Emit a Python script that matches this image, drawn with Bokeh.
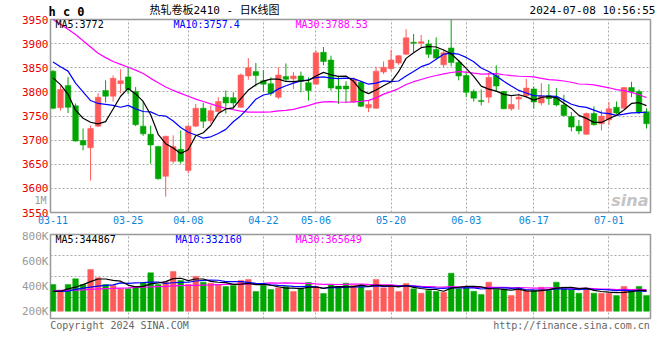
import numpy as np
import pandas as pd
from bokeh.plotting import figure
from bokeh.models import Range1d, FixedTicker, Label, ColumnDataSource, LinearAxis
from bokeh.layouts import column
from bokeh.embed import file_html
from bokeh.resources import INLINE

# ---------------- data ----------------
tick_idx = [0, 10, 18, 28, 35, 45, 55, 64, 74]
tick_lbl = ["03-11", "03-25", "04-08", "04-22", "05-06", "05-20", "06-03", "06-17", "07-01"]

open_ = [3843, 3767, 3813, 3771, 3699, 3684, 3729, 3803, 3791, 3817,
         3831, 3801, 3729, 3712, 3687, 3625, 3656, 3681, 3637, 3729,
         3766, 3740, 3759, 3789, 3788, 3768, 3833, 3842, 3823, 3817,
         3789, 3832, 3827, 3833, 3819, 3816, 3882, 3866, 3812, 3812,
         3779, 3820, 3767, 3766, 3841, 3848, 3860, 3878, 3903, 3901,
         3899, 3888, 3856, 3891, 3861, 3834, 3801, 3782, 3789, 3834,
         3801, 3765, 3785, 3792, 3806, 3777, 3792, 3789, 3773, 3749,
         3729, 3712, 3755, 3734, 3742, 3768, 3766, 3809, 3801, 3759]
high = [3845, 3812, 3831, 3776, 3724, 3730, 3797, 3824, 3834, 3847,
        3851, 3810, 3780, 3730, 3688, 3709, 3710, 3720, 3731, 3775,
        3777, 3772, 3789, 3803, 3799, 3838, 3870, 3860, 3845, 3830,
        3851, 3859, 3841, 3842, 3830, 3886, 3893, 3875, 3832, 3822,
        3830, 3821, 3782, 3852, 3863, 3887, 3876, 3930, 3920, 3918,
        3908, 3913, 3888, 3950, 3866, 3842, 3805, 3805, 3840, 3855,
        3802, 3792, 3796, 3827, 3811, 3818, 3816, 3808, 3794, 3758,
        3742, 3757, 3770, 3762, 3779, 3780, 3810, 3821, 3805, 3766]
low = [3764, 3761, 3756, 3697, 3679, 3616, 3727, 3778, 3780, 3797,
       3796, 3729, 3709, 3651, 3618, 3583, 3651, 3651, 3631, 3727,
       3725, 3734, 3757, 3755, 3765, 3767, 3825, 3811, 3800, 3792,
       3785, 3820, 3806, 3799, 3782, 3815, 3855, 3803, 3775, 3777,
       3777, 3769, 3758, 3765, 3837, 3844, 3856, 3876, 3882, 3893,
       3870, 3868, 3851, 3853, 3824, 3789, 3780, 3772, 3777, 3800,
       3764, 3761, 3763, 3789, 3765, 3772, 3773, 3770, 3749, 3718,
       3712, 3711, 3730, 3720, 3731, 3754, 3765, 3789, 3754, 3724]
close = [3766, 3805, 3768, 3698, 3690, 3724, 3789, 3791, 3828, 3823,
         3805, 3732, 3713, 3690, 3620, 3708, 3687, 3656, 3729, 3766,
         3739, 3761, 3780, 3777, 3777, 3835, 3850, 3834, 3816, 3797,
         3835, 3826, 3833, 3822, 3803, 3881, 3863, 3808, 3806, 3806,
         3826, 3770, 3774, 3843, 3851, 3866, 3875, 3912, 3901, 3904,
         3878, 3870, 3881, 3861, 3833, 3799, 3787, 3780, 3830, 3812,
         3765, 3774, 3789, 3808, 3779, 3792, 3786, 3773, 3751, 3727,
         3719, 3755, 3732, 3750, 3765, 3756, 3809, 3800, 3758, 3734]
volume = [414000, 360000, 414000, 459000, 414000, 534000, 467000, 414000, 406000, 379000,
          379000, 398000, 430000, 507000, 414000, 432000, 518000, 446000, 414000, 478000,
          432000, 424000, 411000, 398000, 406000, 446000, 454000, 358000, 406000, 374000,
          387000, 398000, 358000, 384000, 430000, 398000, 342000, 414000, 398000, 424000,
          406000, 398000, 366000, 454000, 387000, 406000, 358000, 422000, 379000, 344000,
          366000, 358000, 352000, 504000, 379000, 398000, 360000, 334000, 432000, 374000,
          374000, 326000, 374000, 366000, 366000, 392000, 366000, 432000, 392000, 371000,
          344000, 384000, 344000, 344000, 344000, 326000, 398000, 374000, 398000, 326000]

# moving-average values before enough history is visible
ma5_head = [3829, 3815, 3795, 3762]
ma10_head = [3862, 3852, 3843, 3818, 3800, 3782, 3776, 3774, 3772]
ma30_head = [3950, 3940, 3930, 3919, 3906, 3893, 3880, 3871, 3863, 3857,
             3851, 3845, 3838, 3828, 3819, 3810, 3803, 3797, 3791, 3785,
             3780, 3775, 3770, 3766, 3763, 3760, 3758, 3758, 3758]
vma5_head = [358000, 360000, 379000, 392000]
vma10_head = [358000, 358000, 360000, 374000, 384000, 392000, 400000, 406000, 411000]
vma30_head = [364000, 366000, 367000, 369000, 371000, 374000, 378000, 380000, 382000, 385000,
              387000, 390000, 392000, 394000, 397000, 399000, 402000, 404000, 406000, 407000,
              409000, 410000, 412000, 414000, 415000, 417000, 418000, 420000, 422000]

VOL_BASE = 200000

symbol_text = "h c 0"
header_texts = ["热轧卷板2410 - 日K线图", "2024-07-08 10:56:55"]
footer_texts = ["Copyright 2024 SINA.COM", "http://finance.sina.com.cn"]

# ---------------- derived ----------------
def moving(values, n, head):
    s = pd.Series(values, dtype=float).rolling(n).mean().to_numpy()
    s[:n - 1] = head
    return s

N = len(close)
idx = np.arange(N)
UP, DOWN = "#FF5A5A", "#00A600"
colors = [UP if c >= o else DOWN for o, c in zip(open_, close)]
src = ColumnDataSource(dict(
    x=idx, o=open_, h=high, l=low, c=close,
    top=np.maximum(open_, close), bot=np.minimum(open_, close),
    vol=volume, col=colors,
    ma5=moving(close, 5, ma5_head), ma10=moving(close, 10, ma10_head),
    ma30=moving(close, 30, ma30_head),
    vma5=moving(volume, 5, vma5_head), vma10=moving(volume, 10, vma10_head),
    vma30=moving(volume, 30, vma30_head),
))

MONO = "DejaVu Sans Mono"
GRID = "#AAAAAA"
xr = Range1d(-0.333, 79.53)


def plain_axis(ax, color, size, standoff, font=MONO, style="normal"):
    ax.axis_line_color = None
    ax.major_tick_line_color = None
    ax.minor_tick_line_color = None
    ax.major_tick_out = 0
    ax.major_tick_in = 0
    ax.minor_tick_out = 0
    ax.major_label_text_font = font
    ax.major_label_text_font_size = size
    ax.major_label_text_color = color
    ax.major_label_text_font_style = style
    ax.major_label_standoff = standoff


def lab(fig, x, y, text, color="#000000", size="10px", font=MONO, align="left", style="normal"):
    fig.add_layout(Label(x=x, y=y, x_units="screen", y_units="screen", text=text,
                         text_color=color, text_font_size=size, text_font=font,
                         text_align=align, text_baseline="middle", text_font_style=style))

# ---------------- price panel ----------------
p = figure(width=660, height=228, x_range=xr, y_range=Range1d(3550, 3950),
           output_backend="svg", toolbar_location=None,
           min_border_left=50, min_border_right=10, min_border_top=19, min_border_bottom=16,
           background_fill_color="white", border_fill_color="white",
           outline_line_color="#999999", outline_line_width=1.5)
p.extra_x_ranges = {"px": Range1d(50, 650)}
p.segment(x0="x", y0="l", x1="x", y1="h", color="col", line_width=1, source=src)
p.vbar(x="x", width=0.75, top="top", bottom="bot", fill_color="col", line_color="col",
       line_width=0.5, source=src)
p.line("x", "ma30", color="#FF00FF", line_width=1.2, source=src)
p.line("x", "ma10", color="#0000FF", line_width=1.2, source=src)
p.line("x", "ma5", color="#000000", line_width=1.2, source=src)

p.yaxis.ticker = FixedTicker(ticks=list(range(3550, 3951, 50)))
plain_axis(p.yaxis[0], "#E60000", "11px", 2)
p.xaxis.ticker = FixedTicker(ticks=tick_idx)
p.xaxis.major_label_overrides = {i: l for i, l in zip(tick_idx, tick_lbl)}
plain_axis(p.xaxis[0], "#0A86D8", "10px", 3)

# "1M" marker at the left, outside the price labels
m_axis = LinearAxis(ticker=FixedTicker(ticks=[3574]), major_label_overrides={3574: "1M"})
plain_axis(m_axis, "#999999", "10px", -27)
p.add_layout(m_axis, "left")

# header row (title texts) as axes on top
hdr = LinearAxis(x_range_name="px", ticker=FixedTicker(ticks=[214, 592]),
                 major_label_overrides={214: header_texts[0], 592: header_texts[1]})
plain_axis(hdr, "#000000", "11px", 3, font="DejaVu Sans Mono, Noto Sans CJK SC")
p.add_layout(hdr, "above")
sym = LinearAxis(x_range_name="px", ticker=FixedTicker(ticks=[66]),
                 major_label_overrides={66: symbol_text})
plain_axis(sym, "#000000", "12px", -18, style="bold")
p.add_layout(sym, "above")

p.xgrid.ticker = FixedTicker(ticks=tick_idx[1:])
for g in (p.xgrid, p.ygrid):
    g.grid_line_color = GRID
    g.grid_line_dash = "2 2"
    g.grid_line_width = 1

lab(p, 5, 188, "MA5:3772")
lab(p, 123, 188, "MA10:3757.4", color="#0000FF")
lab(p, 245, 188, "MA30:3788.53", color="#FF00FF")
lab(p, 598, 12, "sina", color="#C4C4C4", size="16px", font="DejaVu Sans", align="right",
    style="bold italic")

# ---------------- volume panel ----------------
q = figure(width=660, height=132, x_range=xr, y_range=Range1d(141600, 813600),
           output_backend="svg", toolbar_location=None, x_axis_location=None,
           min_border_left=50, min_border_right=10, min_border_top=6, min_border_bottom=42,
           background_fill_color="white", border_fill_color="white",
           outline_line_color="#999999", outline_line_width=1.5)
q.extra_x_ranges = {"px": Range1d(50, 650)}
q.vbar(x="x", width=0.75, top="vol", bottom=VOL_BASE, fill_color="col", line_color="col",
       line_width=0.5, source=src)
q.line("x", "vma30", color="#FF00FF", line_width=1.2, source=src)
q.line("x", "vma10", color="#0000FF", line_width=1.2, source=src)
q.line("x", "vma5", color="#000000", line_width=1.2, source=src)
vt = [200000, 400000, 600000, 800000]
q.yaxis.ticker = FixedTicker(ticks=vt)
q.yaxis.major_label_overrides = {v: f"{v // 1000}K" for v in vt}
plain_axis(q.yaxis[0], "#999999", "11px", 2)

ftr = LinearAxis(x_range_name="px", ticker=FixedTicker(ticks=[119, 571]),
                 major_label_overrides={119: footer_texts[0], 571: footer_texts[1]})
plain_axis(ftr, "#666666", "10px", 1)
q.add_layout(ftr, "below")

ys, ye = q.y_range.start, q.y_range.end
q.ygrid.ticker = FixedTicker(ticks=[ys + (ye - ys) * k / 4 for k in (1, 2, 3)])
q.xgrid.ticker = FixedTicker(ticks=tick_idx[1:])
for g in (q.xgrid, q.ygrid):
    g.grid_line_color = GRID
    g.grid_line_dash = "2 2"
    g.grid_line_width = 1

lab(q, 5, 79.5, "MA5:344867")
lab(q, 125, 79.5, "MA10:332160", color="#0000FF")
lab(q, 245, 79.5, "MA30:365649", color="#FF00FF")

layout = column(p, q)
open("out.html", "w").write(file_html(layout, INLINE))
